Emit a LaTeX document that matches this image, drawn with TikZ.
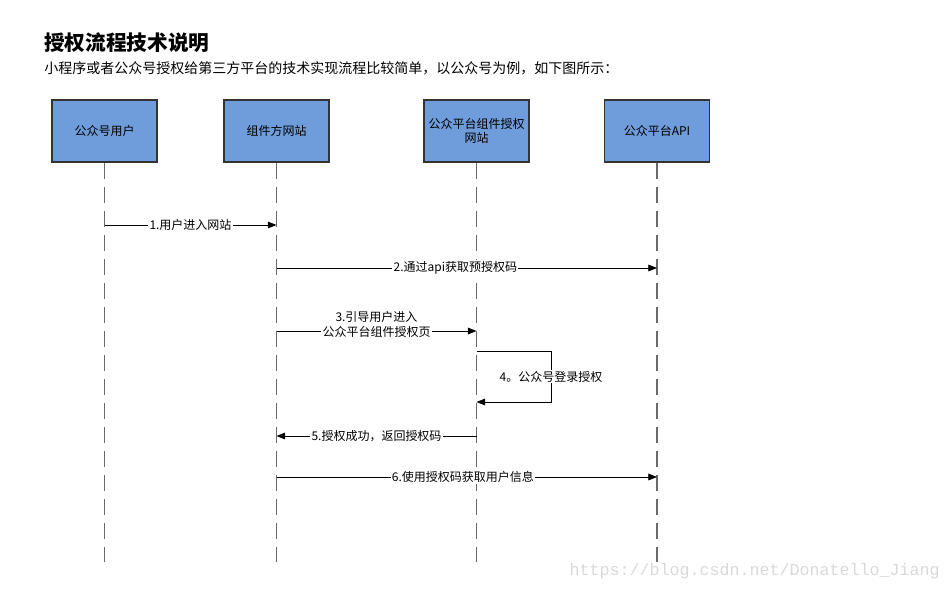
\documentclass[tikz,border=0pt]{standalone}
\usepackage{fontspec}
\setmainfont{Noto Sans CJK SC}
\newfontfamily\wmfont{Liberation Mono}
\usetikzlibrary{positioning,arrows.meta}

\definecolor{boxblue}{HTML}{6F9CDA}
\definecolor{lifegray}{HTML}{6A6A6A}

\begin{document}
\begin{tikzpicture}[x=0.75pt,y=-0.75pt]
  % Settings
  \tikzset{
    actor/.style={draw=black!80, fill=boxblue, line width=0.8pt, minimum width=78.75pt, minimum height=46.5pt, align=center, font=\fontsize{9pt}{11pt}\selectfont},
    life/.style={draw=lifegray, line width=1.4pt, dash pattern=on 12.5pt off 5.5pt},
    msg/.style={draw, line width=0.6pt, -{Triangle[length=6.5pt,width=5pt]}},
    lbl/.style={fill=white, inner sep=1pt, align=center, font=\fontsize{9pt}{11.5pt}\selectfont},
  }
  \useasboundingbox (0,0) rectangle (951,590);

  % Heading
  \node[anchor=west, inner sep=0pt, font=\fontsize{15.5pt}{18pt}\selectfont\bfseries] (title) at (44,43) {授权流程技术说明};
  \node[anchor=west, inner sep=0pt, font=\fontsize{10.5pt}{13pt}\selectfont] (intro) at (44,68) {小程序或者公众号授权给第三方平台的技术实现流程比较简单，以公众号为例，如下图所示：};

  % Actors
  \node[actor] (user) at (104.5,131) {公众号用户};
  \node[actor] (site) at (276.5,131) {组件方网站};
  \node[actor] (auth) at (476.5,131) {公众平台组件授权\\网站};
  \node[actor] (api)  at (657,131)   {公众平台API};

  % Rows
  \coordinate (bottom) at (0,562);
  \coordinate (r1) at (0,225);
  \coordinate (r2) at (0,268);
  \coordinate (r3) at (0,331);
  \coordinate (r4a) at (0,351);
  \coordinate (r4b) at (0,402);
  \coordinate (loop) at (551,0);
  \coordinate (r5) at (0,436);
  \coordinate (r6) at (0,477);

  % Lifelines
  \foreach \a in {user,site,auth,api} {\draw[life] (\a.south) -- (\a |- bottom);}

  % Arrows
  \draw[msg] (user |- r1) -- node[lbl] {1.用户进入网站} (site |- r1);
  \draw[msg] (site |- r2) -- node[lbl, pos=.47] {2.通过api获取预授权码} (api |- r2);
  \draw[msg] (site |- r3) -- node[lbl, anchor=south, yshift=-6.5pt] {3.引导用户进入\\公众平台组件授权页} (auth |- r3);
  \draw[msg] (auth |- r4a) -- (loop |- r4a) -- node[lbl] {4。公众号登录授权} (loop |- r4b) -- (auth |- r4b);
  \draw[msg] (auth |- r5) -- node[lbl] {5.授权成功，返回授权码} (site |- r5);
  \draw[msg] (site |- r6) -- node[lbl, pos=.49] {6.使用授权码获取用户信息} (api |- r6);

  % Watermark
  \node[anchor=east, inner sep=0pt, text=black!15, font=\wmfont\fontsize{12.5pt}{14pt}\selectfont] (mark) at (940,571) {https://blog.csdn.net/Donatello\_Jiang};
\end{tikzpicture}
\end{document}
